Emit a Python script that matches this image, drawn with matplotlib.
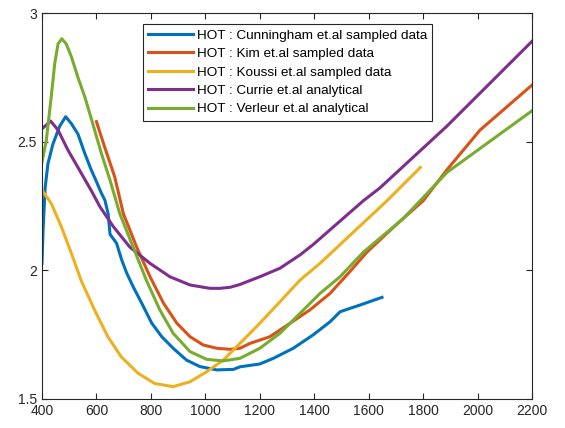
import numpy as np
import matplotlib
matplotlib.use("Agg")
import matplotlib.pyplot as plt

plt.rcParams['font.family'] = ['Liberation Sans', 'DejaVu Sans']

# HOT curves
cun_x = [400, 404, 410, 412, 422, 440, 465, 487, 508, 532, 557, 581, 600, 618, 631, 643, 650, 674, 693, 711,
         735, 766, 803, 840, 882, 931, 980, 1042, 1103, 1127, 1200, 1250, 1323, 1396, 1458, 1495, 1531,
         1568, 1649]
cun_y = [2.027, 2.157, 2.286, 2.325, 2.415, 2.49, 2.56, 2.597, 2.57, 2.53, 2.455, 2.39, 2.345, 2.30, 2.273, 2.22, 2.14, 2.105, 2.04, 1.99,
         1.936, 1.873, 1.795, 1.742, 1.697, 1.651, 1.626, 1.613, 1.615, 1.625, 1.636, 1.658, 1.697, 1.749, 1.80, 1.839, 1.852,
         1.865, 1.895]

kim_x = [600, 630, 667, 699, 748, 797, 846, 895, 944, 992, 1042, 1091, 1127, 1164, 1237, 1311, 1384, 1458, 1531,
         1593, 1704, 1800, 1887, 2009, 2200]
kim_y = [2.578, 2.48, 2.364, 2.22, 2.09, 1.975, 1.873, 1.795, 1.742, 1.71, 1.697, 1.693, 1.697, 1.716, 1.742, 1.794, 1.846, 1.91, 1.995,
         2.07, 2.18, 2.27, 2.39, 2.545, 2.72]

kou_x = [400, 434, 471, 508, 544, 593, 642, 691, 753, 814, 882, 944, 1005, 1066, 1127, 1200, 1274, 1348, 1421,
         1482, 1520, 1667, 1790]
kou_y = [2.312, 2.26, 2.17, 2.066, 1.96, 1.846, 1.742, 1.664, 1.60, 1.56, 1.548, 1.567, 1.606, 1.651, 1.716, 1.794, 1.878, 1.962, 2.027,
         2.087, 2.125, 2.27, 2.40]

cur_x = [400, 432, 459, 495, 544, 581, 613, 662, 723, 797, 870, 944, 1017, 1054, 1091, 1127, 1200, 1274, 1348,
         1396, 1580, 1641, 1887, 2200]
cur_y = [2.55, 2.58, 2.545, 2.468, 2.378, 2.31, 2.247, 2.17, 2.09, 2.027, 1.975, 1.943, 1.93, 1.93, 1.934, 1.945, 1.975, 2.008, 2.06,
         2.10, 2.27, 2.32, 2.56, 2.89]

ver_x = [400, 416, 434, 447, 459, 473, 489, 508, 532, 557, 581, 618, 650, 686, 735, 784, 833, 882, 944, 1005,
         1066, 1127, 1200, 1274, 1348, 1421, 1495, 1580, 1726, 1887, 2200]
ver_y = [2.42, 2.506, 2.675, 2.805, 2.88, 2.90, 2.88, 2.83, 2.75, 2.675, 2.59, 2.455, 2.35, 2.22, 2.09, 1.96, 1.846, 1.755, 1.684, 1.654,
         1.648, 1.658, 1.697, 1.755, 1.833, 1.91, 1.975, 2.07, 2.20, 2.38, 2.62]

labels = ['HOT : Cunningham et.al sampled data',
          'HOT : Kim et.al sampled data',
          'HOT : Koussi et.al sampled data',
          'HOT : Currie et.al analytical',
          'HOT : Verleur et.al analytical']
colors = ['#0072BD', '#D95319', '#EDB120', '#7E2F8E', '#77AC30']

fig = plt.figure(figsize=(5.65, 4.28), dpi=100)
ax = fig.add_axes([0.0743, 0.0678, 0.8673, 0.9018])

series = [(cun_x, cun_y), (kim_x, kim_y), (kou_x, kou_y), (cur_x, cur_y), (ver_x, ver_y)]
for (x, y), c, lab in zip(series, colors, labels):
    ax.plot(x, y, color=c, lw=2.2, label=lab, solid_joinstyle='round')

ax.set_xlim(400, 2200)
ax.set_ylim(1.5, 3)
ax.set_xticks(np.arange(400, 2201, 200))
ax.set_yticks([1.5, 2, 2.5, 3])
ax.set_yticklabels(['1.5', '2', '2.5', '3'])
ax.tick_params(direction='in', top=True, right=True, labelsize=10, colors='#262626', length=4)
for s in ax.spines.values():
    s.set_color('#262626')
    s.set_linewidth(0.8)

leg = ax.legend(loc='upper left', bbox_to_anchor=(0.206, 0.9715), borderaxespad=0, fontsize=9.7,
                handlelength=3.3, handletextpad=0.3, labelspacing=0.44, borderpad=0.4, fancybox=False,
                framealpha=1, edgecolor='#262626')
leg.get_frame().set_linewidth(0.8)

fig.savefig('out.png', dpi=100)
